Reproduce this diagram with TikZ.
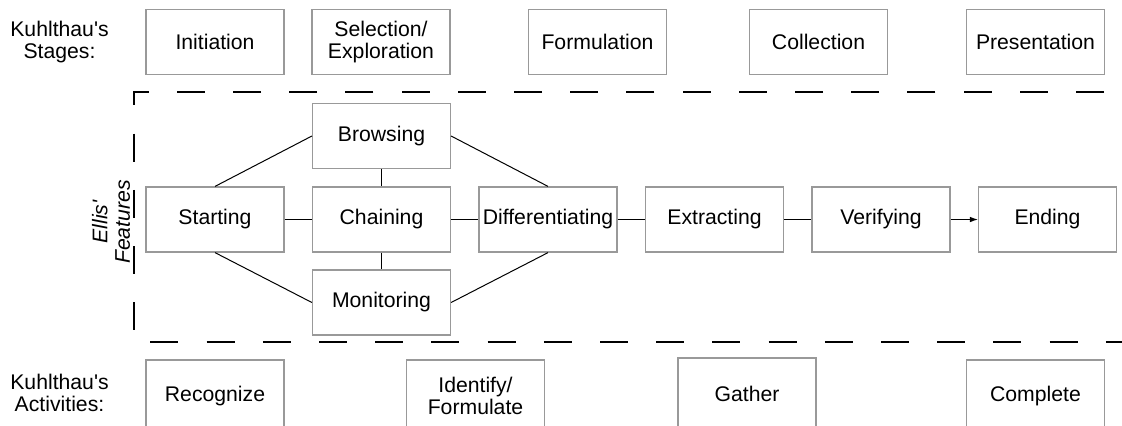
\documentclass[tikz,border=0pt]{standalone}
\usepackage{fontspec}
\setmainfont{Liberation Sans}
\usetikzlibrary{positioning,arrows.meta}

\begin{document}
\begin{tikzpicture}[x=0.5pt,y=-0.5pt]
       \tikzset{feature/.style={rectangle, minimum width=69pt, minimum height=32.5pt,
                inner sep=1pt, draw=black!40, line width=0.6pt, align=center,
                font=\fontsize{10.6}{11.2}\selectfont}}

       \tikzset{sidetext/.style={align=center, inner sep=0pt,
                font=\fontsize{10.6}{11.2}\selectfont}}

       \tikzset{link/.style={draw, line width=0.5pt}}

       \tikzset{frame/.style={line width=0.65pt, dash pattern=on 14pt off 14.1pt}}

        \useasboundingbox (0,0) rectangle (1122,425);

        % Kuhlthau's stages
        \node[sidetext] (stageslabel) at (59.5,42) {Kuhlthau\textquotesingle s\\Stages:};
        \node[feature] (initiation) at (215,42) {Initiation};
        \node[feature] (selection) at (381,42) {Selection/\\Exploration};
        \node[feature] (formulation) at (597.5,42) {Formulation};
        \node[feature] (collection) at (818.5,42) {Collection};
        \node[feature] (presentation) at (1035.5,42) {Presentation};

        % Ellis' features
        \draw[frame] (1104,92) -- (134,92) -- (134,342) -- (1135,342);
        \node[sidetext, rotate=90, font=\fontsize{10.6}{11.2}\selectfont\itshape] (ellislabel) at (111,222) {Ellis\textquotesingle\\Features};

        \node[feature] (starting) at (215,219.5) {Starting};
        \node[feature, right of = starting, node distance=83.25pt] (chaining) {Chaining};
        \node[feature, right of = chaining, node distance=83.25pt] (differentiating) {Differentiating};
        \node[feature, right of = differentiating, node distance=83.25pt] (extracting) {Extracting};
        \node[feature, right of = extracting, node distance=83.25pt] (verifying) {Verifying};
        \node[feature, right of = verifying, node distance=83.25pt] (ending) {Ending};
        \node[feature, above of = chaining, node distance=41.75pt] (browsing) {Browsing};
        \node[feature, below of = chaining, node distance=41.5pt] (monitoring) {Monitoring};

        \draw[link](starting) -- (chaining);
        \draw[link](chaining) -- (differentiating);
        \draw[link](differentiating) -- (extracting);
        \draw[link](extracting) -- (verifying);
        \draw[link,-{Latex[length=4pt,width=2.8pt]}](verifying) -- (ending);
        \draw[link](browsing) -- (chaining);
        \draw[link](chaining) -- (monitoring);
        \draw[link](starting.north) -- (browsing.west);
        \draw[link](browsing.east) -- (differentiating.north);
        \draw[link](starting.south) -- (monitoring.west);
        \draw[link](monitoring.east) -- (differentiating.south);

        % Kuhlthau's activities
        \node[sidetext] (activitieslabel) at (59.5,393) {Kuhlthau\textquotesingle s\\Activities:};
        \node[feature, minimum height=36pt] (recognize) at (215,396) {Recognize};
        \node[feature, minimum height=36pt] (identify) at (475.5,396) {Identify/\\Formulate};
        \node[feature, minimum height=36pt] (gather) at (747,394) {Gather};
        \node[feature, minimum height=36pt] (complete) at (1035.5,396) {Complete};

   \end{tikzpicture}
\end{document}
